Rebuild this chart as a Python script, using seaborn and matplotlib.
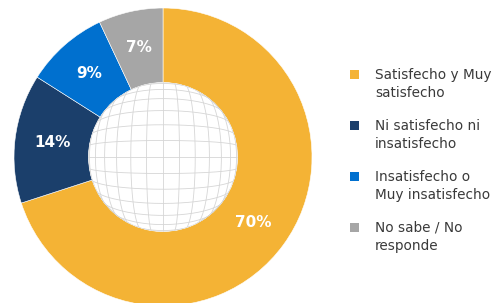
import numpy as np
import matplotlib
matplotlib.use("Agg")
import matplotlib.pyplot as plt
import matplotlib.patches as mpatches
import seaborn as sns

categories = ["Satisfecho y Muy\nsatisfecho", "Ni satisfecho ni\ninsatisfecho",
              "Insatisfecho o\nMuy insatisfecho", "No sabe / No\nresponde"]
values = [70, 14, 9, 7]
pct_labels = ["70%", "14%", "9%", "7%"]
colors = ["#F4B335", "#1B3F6B", "#0070CF", "#A6A6A6"]

sns.set_theme(style="white")
plt.rcParams['font.family'] = ['DejaVu Sans']

fig = plt.figure(figsize=(4.96, 3.03), dpi=100)
cx, cy, R = 163, 146, 149
W, H = 496, 303
ax = fig.add_axes([(cx - R) / W, (cy - R) / H, 2 * R / W, 2 * R / H])

wedges, _ = ax.pie(values, colors=colors, startangle=90, counterclock=False,
                   radius=1.0, wedgeprops=dict(width=0.5, edgecolor="white", linewidth=0.4))
total = sum(values)
ang = 90.0
for v, lab in zip(values, pct_labels):
    mid = ang - v / total * 360 / 2
    ang -= v / total * 360
    r = 0.75
    ax.text(r * np.cos(np.radians(mid)), r * np.sin(np.radians(mid)), lab,
            ha="center", va="center", color="white", fontsize=11, fontweight="bold")

# globe in the centre
inner = 0.5
circ = mpatches.Circle((0, 0), inner, facecolor="white", edgecolor="none", zorder=3)
ax.add_patch(circ)
t = np.linspace(-1, 1, 200)
def bulge(u, v):
    rho = np.sqrt(u ** 2 + v ** 2)
    rho = np.where(rho == 0, 1e-9, rho)
    k = 1.25
    rp = np.sin(np.clip(rho, 0, 1.42) * k) / np.sin(1.42 * k)
    return u / rho * rp * inner, v / rho * rp * inner
grid = np.linspace(-1.4, 1.4, 17)
for g in grid:
    x, y = bulge(np.full_like(t, g), t * 1.42)
    ln, = ax.plot(x, y, color="#d6d6d6", lw=0.6, zorder=4)
    ln.set_clip_path(circ)
    x, y = bulge(t * 1.42, np.full_like(t, g))
    ln, = ax.plot(x, y, color="#d6d6d6", lw=0.6, zorder=4)
    ln.set_clip_path(circ)

ax.set_xlim(-1, 1)
ax.set_ylim(-1, 1)
ax.set_aspect("auto")
ax.axis("off")

# legend
for i, (lab, c) in enumerate(zip(categories, colors)):
    yc = 84 + 51 * i
    sq_top = yc - 14
    fig.add_artist(mpatches.Rectangle((349.5 / W, 1 - (sq_top + 9) / H), 9 / W, 9 / H,
                                      facecolor=c, edgecolor="none",
                                      transform=fig.transFigure))
    fig.text(375 / W, 1 - yc / H, lab, ha="left", va="center", fontsize=9.8,
             color="#3a3a3a", linespacing=1.45)

fig.savefig("out.png", dpi=100)
